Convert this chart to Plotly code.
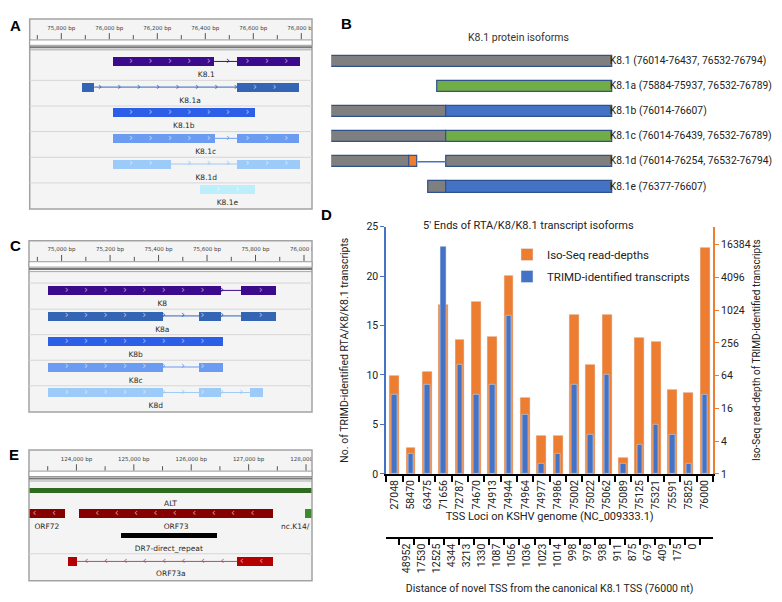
import numpy as np
import plotly.graph_objects as go

W, H = 782, 602

# ======================= DATA =======================
# Panel A / B : K8.1 transcript isoforms (exon coordinates, bp)
k81_names = ["K8.1", "K8.1a", "K8.1b", "K8.1c", "K8.1d", "K8.1e"]
k81_exons = [
    [(76014, 76437), (76532, 76794)],
    [(75884, 75937), (76532, 76789)],
    [(76014, 76607)],
    [(76014, 76439), (76532, 76789)],
    [(76014, 76254), (76532, 76794)],
    [(76377, 76607)],
]

# Panel B : protein schematic segments (start, end along protein, segment kind)
protein_segments = [
    [(0, 228, "K8.1 frame")],
    [(86, 228, "alternative frame")],
    [(0, 93, "K8.1 frame"), (93, 228, "intron read-through")],
    [(0, 93, "K8.1 frame"), (93, 228, "alternative frame")],
    [(0, 63, "K8.1 frame"), (63, 70, "novel residues"), (70, 93, "spliced out"), (93, 228, "K8.1 frame")],
    [(79, 93, "K8.1 frame"), (93, 228, "intron read-through")],
]
protein_length = 228

# Panel C : K8 transcript isoforms
k8_names = ["K8", "K8a", "K8b", "K8c", "K8d"]
k8_exons = [
    [(74945, 75656), (75741, 75886)],
    [(74945, 75418), (75567, 75656), (75741, 75886)],
    [(74945, 75666)],
    [(74945, 75418), (75567, 75666)],
    [(74945, 75418), (75567, 75656), (75777, 75832)],
]

# Panel D : 5' ends of RTA/K8/K8.1 transcript isoforms
tss_loci = ["27048", "58470", "63475", "71656", "72787", "74670", "74913", "74944", "74964", "74977",
            "74986", "75002", "75022", "75062", "75089", "75125", "75321", "75591", "75825", "76000"]
tss_distance = ["48952", "17530", "12525", "4344", "3213", "1330", "1087", "1056", "1036", "1023",
                "1014", "998", "978", "938", "911", "875", "679", "409", "175", "0"]
trimd_transcripts = [8, 2, 9, 23, 11, 8, 9, 16, 6, 1, 2, 9, 4, 10, 1, 3, 5, 4, 1, 8]
isoseq_read_depth = [65, 3, 75, 1300, 295, 1500, 335, 4400, 25, 5, 5, 830, 100, 830, 2, 315, 265, 35, 31, 14300]
depth_ticks = [1, 4, 16, 64, 256, 1024, 4096, 16384]

# Panel E : latency locus features
latent_names = ["ALT", "ORF72", "ORF73", "nc.K14/", "DR7-direct_repeat", "ORF73a"]
latent_exons = [
    [(122800, 128600)],
    [(122950, 123798)],
    [(124042, 127433)],
    [(127990, 128450)],
    [(124772, 126447)],
    [(123856, 124012), (126800, 127433)],
]
latent_strand = ["+", "-", "-", "+", ".", "-"]

# genome-browser ruler ticks (bp)
ruler_a_ticks = [75700, 75800, 75900, 76000, 76100, 76200, 76300, 76400, 76500, 76600, 76700, 76800]
ruler_a_labels = [75800, 76000, 76200, 76400, 76600, 76800]
ruler_c_ticks = [74900, 75000, 75100, 75200, 75300, 75400, 75500, 75600, 75700, 75800, 75900, 76000]
ruler_c_labels = [75000, 75200, 75400, 75600, 75800, 76000]
ruler_e_ticks = [123500, 124000, 124500, 125000, 125500, 126000, 126500, 127000, 127500, 128000]
ruler_e_labels = [124000, 125000, 126000, 127000, 128000]

# ======================= STYLE =======================
FONT = "Roboto"
IGV_FONT = "DejaVu Sans"
ORANGE = "#ed7d31"
BLUE = "#4472c4"
TXT = "#222222"
K81_COLORS = ["#3c0a8c", "#3465b5", "#2c5ee8", "#6b9cf2", "#9ccaf9", "#bdeefc"]
SEG_COLORS = {"K8.1 frame": "#7f7f7f", "alternative frame": "#70ad47",
              "intron read-through": BLUE, "novel residues": ORANGE}
LATENT_STYLE = {  # row centre, height, colour, label row
    "ALT": (41.8, 5, "#2f6b1f", 55.3),
    "ORF72": (64.8, 9, "#850000", 78.6),
    "ORF73": (64.8, 9, "#850000", 78.6),
    "nc.K14/": (64.8, 9, "#3d8a2e", 78.6),
    "DR7-direct_repeat": (87.6, 5.3, "#000000", 101.0),
    "ORF73a": (113.8, 9, "#b40000", 127.0),
}

fig = go.Figure()
shapes, annotations, axes = [], [], {}


def make_axes(n, left, top, right, bottom, xr, yr):
    axes[f"xaxis{n}"] = dict(domain=[left / W, right / W], range=xr, visible=False,
                             anchor=f"y{n}", fixedrange=True)
    axes[f"yaxis{n}"] = dict(domain=[1 - bottom / H, 1 - top / H], range=yr, visible=False,
                             anchor=f"x{n}", fixedrange=True)


def hline(n, y, color, width):
    shapes.append(dict(type="line", xref=f"x{n} domain", yref=f"y{n}", x0=0, x1=1, y0=y, y1=y,
                       line=dict(color=color, width=width)))


def igv_panel(n, frame, bp_range, ticks, tick_labels, tracks, separators):
    left, top, right, bottom = frame
    xa, ya = f"x{n}", f"y{n}"
    make_axes(n, left, top, right, bottom, bp_range, [bottom - top, 0])
    scale = (right - left) / (bp_range[1] - bp_range[0])
    shapes.append(dict(type="rect", xref="paper", yref="paper", x0=left / W, x1=right / W,
                       y0=1 - bottom / H, y1=1 - top / H, fillcolor="#f4f4f4",
                       line=dict(width=0), layer="below"))
    shapes.append(dict(type="rect", xref="paper", yref="paper", x0=left / W, x1=right / W,
                       y0=1 - bottom / H, y1=1 - top / H, fillcolor="rgba(0,0,0,0)",
                       line=dict(color="#a3a3a3", width=1.5), layer="above"))
    # ruler
    tx, ty = [], []
    for t in ticks:
        tx += [t, t, None]
        ty += [14.5 if t in tick_labels else 16.5, 21, None]
    fig.add_trace(go.Scatter(x=tx, y=ty, mode="lines", line=dict(color="#555", width=1),
                             xaxis=xa, yaxis=ya, hoverinfo="skip", showlegend=False))
    fig.add_trace(go.Scatter(x=tick_labels, y=[9.5] * len(tick_labels), mode="text",
                             text=[f"{v:,} bp" for v in tick_labels],
                             textfont=dict(family=IGV_FONT, size=5.5, color="#444"),
                             xaxis=xa, yaxis=ya, hoverinfo="skip", showlegend=False))
    shapes.append(dict(type="rect", xref=f"{xa} domain", yref=ya, x0=0, x1=1, y0=21.5, y1=27,
                       fillcolor="white", line=dict(color="#9a9a9a", width=1)))
    hline(n, 29, "#7a7a7a", 2)
    hline(n, 31.6, "#a8a8a8", 1)
    for s in separators:
        hline(n, s, "#d6d6d6", 1)
    step = 19.4 / scale
    for tr in tracks:
        ex = tr["exons"]
        yc, h, col = tr["y"], tr["h"], tr["color"]
        fig.add_trace(go.Bar(y=[yc] * len(ex), x=[e - s for s, e in ex], base=[s for s, e in ex],
                             width=h, orientation="h", marker=dict(color=col, line=dict(width=0)),
                             xaxis=xa, yaxis=ya, hoverinfo="skip", showlegend=False))
        if len(ex) > 1:
            ix, iy = [], []
            for (s1, e1), (s2, e2) in zip(ex[:-1], ex[1:]):
                ix += [e1, s2, None]
                iy += [yc, yc, None]
            fig.add_trace(go.Scatter(x=ix, y=iy, mode="lines", line=dict(color=tr["intron"], width=1),
                                     xaxis=xa, yaxis=ya, hoverinfo="skip", showlegend=False))
        if h >= 8 and tr["strand"] in "+-":
            glyph = "›" if tr["strand"] == "+" else "‹"
            s0, e0 = ex[0][0], ex[-1][1]
            pos = np.arange(s0 + step * 0.95, e0 - step * 0.3, step)
            in_ex = [p for p in pos if any(a + step * 0.15 <= p <= b - step * 0.15 for a, b in ex)]
            in_in = [p for p in pos if all(not (a <= p <= b) for a, b in ex)]
            if in_ex:
                fig.add_trace(go.Scatter(x=in_ex, y=[yc] * len(in_ex), mode="text", text=[glyph] * len(in_ex),
                                         textfont=dict(family=IGV_FONT, size=10, color=tr["chev"]),
                                         xaxis=xa, yaxis=ya, hoverinfo="skip", showlegend=False))
            if in_in:
                fig.add_trace(go.Scatter(x=in_in, y=[yc] * len(in_in), mode="text", text=[glyph] * len(in_in),
                                         textfont=dict(family=IGV_FONT, size=10, color=tr["intron"]),
                                         xaxis=xa, yaxis=ya, hoverinfo="skip", showlegend=False))
        v0 = max(ex[0][0], bp_range[0])
        v1 = min(ex[-1][1], bp_range[1])
        hw = len(tr["name"]) * 2.4 / scale
        cx = min(max((v0 + v1) / 2, bp_range[0] + hw), bp_range[1] - hw)
        fig.add_trace(go.Scatter(x=[cx], y=[tr["label_y"]], mode="text", text=[tr["name"]],
                                 textfont=dict(family=IGV_FONT, size=7.5, color="#2a2a2a"),
                                 xaxis=xa, yaxis=ya, hoverinfo="skip", showlegend=False))


# ---------- Panel A ----------
tracks_a = []
for k, (nm, ex) in enumerate(zip(k81_names, k81_exons)):
    yc = 43.5 + 26.2 * k
    tracks_a.append(dict(name=nm, exons=ex, strand="+", y=yc, h=9, color=K81_COLORS[k],
                         intron=K81_COLORS[k], chev="rgba(255,255,255,0.6)", label_y=yc + 14))
igv_panel(3, (21.7, 5, 304, 199.3), [75668.3, 76844.6], ruler_a_ticks, ruler_a_labels, tracks_a,
          [43.5 + 26.2 * k + 19.3 for k in range(5)])

# ---------- Panel C ----------
tracks_c = []
for k, (nm, ex) in enumerate(zip(k8_names, k8_exons)):
    yc = 50.8 + 26.1 * k
    tracks_c.append(dict(name=nm, exons=ex, strand="+", y=yc, h=9, color=K81_COLORS[k],
                         intron=K81_COLORS[k], chev="rgba(255,255,255,0.6)", label_y=yc + 14.3))
igv_panel(5, (21, 231.7, 304, 406.7), [74865.5, 76033.0], ruler_c_ticks, ruler_c_labels, tracks_c,
          [43.3] + [50.8 + 26.1 * k + 19.2 for k in range(4)])

# ---------- Panel E ----------
tracks_e = []
for nm, ex, st in zip(latent_names, latent_exons, latent_strand):
    yc, h, col, ly = LATENT_STYLE[nm]
    tracks_e.append(dict(name=nm, exons=ex, strand=st, y=yc, h=h, color=col,
                         intron="#a8506e", chev="rgba(255,210,210,0.75)", label_y=ly))
igv_panel(6, (21, 445.7, 304, 579.3), [123174, 128104], ruler_e_ticks, ruler_e_labels, tracks_e, [106])

# ---------- Panel B ----------
B_LEFT, B_BAR_RIGHT = 323.3, 604.3
b_xmax = protein_length * (W - B_LEFT) / (B_BAR_RIGHT - B_LEFT)
make_axes(4, B_LEFT, 0, W, 200, [0, b_xmax], [200, 0])
for kind, col in SEG_COLORS.items():
    ys, xs, bs = [], [], []
    for k, segs in enumerate(protein_segments):
        for s, e, kd in segs:
            if kd == kind:
                ys.append(48.3 + 25.7 * k)
                xs.append(e - s)
                bs.append(s)
    fig.add_trace(go.Bar(y=ys, x=xs, base=bs, orientation="h", width=11.5,
                         marker=dict(color=col, line=dict(color="#2f528f", width=1.2)),
                         xaxis="x4", yaxis="y4", hoverinfo="skip", showlegend=False))
gx, gy = [], []
for k, segs in enumerate(protein_segments):
    for s, e, kd in segs:
        if kd == "spliced out":
            gx += [s, e, None]
            gy += [48.3 + 25.7 * k] * 2 + [None]
fig.add_trace(go.Scatter(x=gx, y=gy, mode="lines", line=dict(color=BLUE, width=1.5),
                         xaxis="x4", yaxis="y4", hoverinfo="skip", showlegend=False))
b_labels = [f"{nm} ({', '.join(f'{s}-{e}' for s, e in ex)})" for nm, ex in zip(k81_names, k81_exons)]
fig.add_trace(go.Scatter(x=[protein_length - 2.0] * len(b_labels), y=[48.3 + 25.7 * k for k in range(len(b_labels))],
                         mode="text", text=b_labels, textposition="middle right", cliponaxis=False,
                         textfont=dict(family=FONT, size=10.3, color=TXT),
                         xaxis="x4", yaxis="y4", hoverinfo="skip", showlegend=False))

# ---------- Panel D ----------
fig.add_trace(go.Bar(x=tss_loci, y=isoseq_read_depth, name="Iso-Seq read-depths", marker_color=ORANGE,
                     width=0.61, xaxis="x", yaxis="y", legendgroup="a", hoverinfo="x+y"))
fig.add_trace(go.Bar(x=tss_loci, y=trimd_transcripts, name="TRIMD-identified transcripts", marker_color=BLUE,
                     width=0.33, xaxis="x", yaxis="y2", legendgroup="b", hoverinfo="x+y"))
fig.add_trace(go.Scatter(x=tss_distance, y=[1] * len(tss_distance), mode="markers", marker=dict(opacity=0),
                         xaxis="x2", yaxis="y", hoverinfo="skip", showlegend=False))

D_LEFT, D_RIGHT, D_TOP, D_BOT = 378.3, 705, 217.3, 470
tickfont = dict(family=FONT, size=10.5, color=TXT)
axes["xaxis"] = dict(domain=[D_LEFT / W, D_RIGHT / W], anchor="y", type="category", showline=True,
                     linecolor="black", linewidth=2, ticks="outside", tickson="boundaries", ticklen=6,
                     tickcolor="black", tickwidth=1.5, tickangle=-90, tickfont=tickfont, showgrid=False,
                     title=dict(text="TSS Loci on KSHV genome (NC_009333.1)", standoff=4,
                                font=dict(family=FONT, size=11, color=TXT)))
axes["xaxis2"] = dict(overlaying="x", anchor="free", position=1 - 536 / H, type="category", side="bottom",
                      showline=True, linecolor="black", linewidth=2, ticks="outside", tickson="boundaries",
                      ticklen=6, tickcolor="black", tickwidth=1.5, tickangle=-90, tickfont=tickfont,
                      showgrid=False,
                      title=dict(text="Distance of novel TSS from the canonical K8.1 TSS (76000 nt)", standoff=12,
                                 font=dict(family=FONT, size=10.5, color=TXT)))
axes["yaxis"] = dict(domain=[1 - D_BOT / H, 1 - D_TOP / H], anchor="x", side="right", type="log",
                     range=[0, 4.546], tickvals=depth_ticks, ticktext=[str(v) for v in depth_ticks],
                     showline=True, linecolor=ORANGE, linewidth=2, ticks="outside", tickcolor=ORANGE,
                     ticklen=4, tickfont=tickfont, showgrid=False, zeroline=False,
                     title=dict(text="Iso-Seq read-depth of TRIMD-identified transcripts", standoff=2,
                                font=dict(family=FONT, size=10, color=TXT)))
axes["yaxis2"] = dict(overlaying="y", anchor="x", side="left", range=[0, 25], dtick=5, showline=True,
                      linecolor=BLUE, linewidth=2, ticks="outside", tickcolor=BLUE, ticklen=4,
                      tickfont=tickfont, showgrid=False, zeroline=False,
                      title=dict(text="No. of TRIMD-identified RTA/K8/K8.1 transcripts", standoff=16,
                                 font=dict(family=FONT, size=10.5, color=TXT)))

# ---------- annotations ----------
annotations.append(dict(text="5' Ends of RTA/K8/K8.1 transcript isoforms", x=520 / W, y=1 - 216 / H,
                        xref="paper", yref="paper", showarrow=False, font=dict(family=FONT, size=11, color=TXT)))
annotations.append(dict(text="K8.1 protein isoforms", x=510 / W, y=1 - 15 / H, xref="paper", yref="paper",
                        showarrow=False, font=dict(family=FONT, size=10.5, color="#333")))
for letter, (lx, ly) in {"A": (7.5, 11.7), "B": (338, 10), "C": (7, 236.7), "D": (318, 205), "E": (6.3, 450)}.items():
    annotations.append(dict(text=f"<b>{letter}</b>", x=lx / W, y=1 - ly / H, xref="paper", yref="paper",
                            showarrow=False, xanchor="center", yanchor="middle",
                            font=dict(family="Liberation Sans", size=15, color="black")))

fig.update_layout(
    width=W, height=H, autosize=False, margin=dict(l=0, r=0, t=0, b=0),
    paper_bgcolor="white", plot_bgcolor="white", barmode="overlay", bargap=0,
    shapes=shapes, annotations=annotations,
    legend=dict(x=499 / W, y=1 - 231 / H, xanchor="left", yanchor="top", bgcolor="rgba(0,0,0,0)",
                font=dict(family=FONT, size=11.5, color=TXT), tracegroupgap=3, itemwidth=30),
    showlegend=True,
    **axes,
)

fig.write_html("out.html")
